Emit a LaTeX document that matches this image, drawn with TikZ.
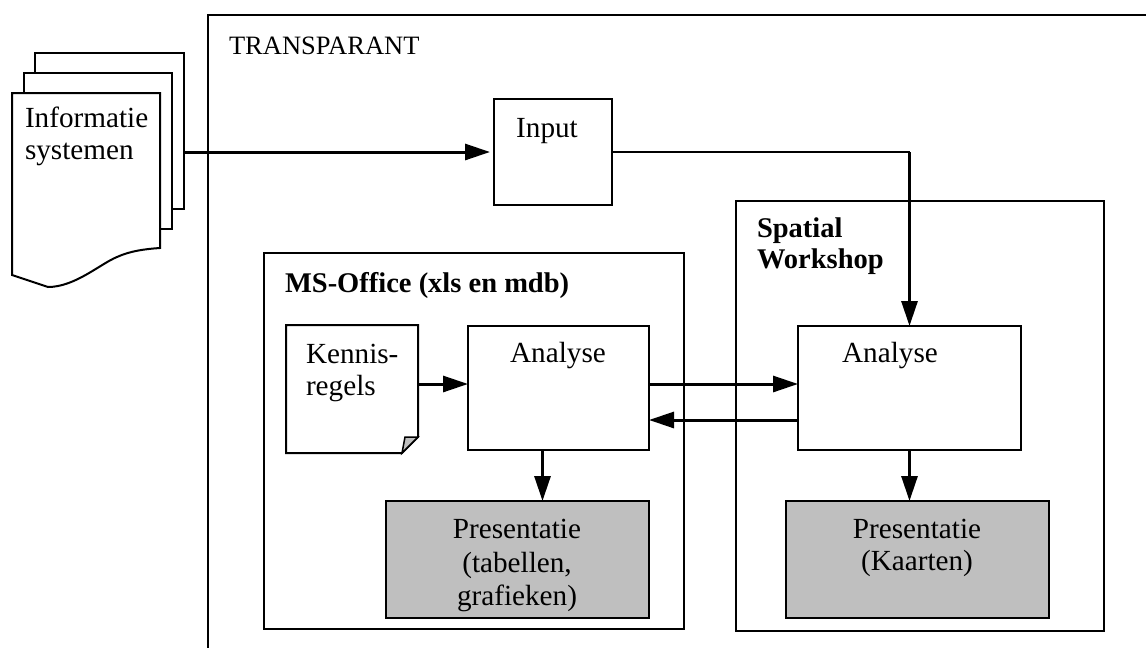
\documentclass[tikz,border=0pt]{standalone}
\usepackage{fontspec}
\setmainfont{Liberation Serif}
\usetikzlibrary{arrows.meta,calc}
\tikzset{
  pane/.style={draw=black,line width=2pt,fill=white,rectangle,inner sep=0pt,outer sep=0pt,anchor=north west},
  plain/.style={rectangle,inner sep=0pt,outer sep=0pt,anchor=north west},
  greybox/.style={pane,fill=boxgrey},
  edge/.style={draw=black,line width=2pt,line join=miter},
  thin edge/.style={draw=black,line width=2pt},
  flow/.style={draw=black,line width=3pt,-{Triangle[length=25pt,width=16pt]}},
  txt/.style={font=\fontsize{29.2}{32}\selectfont,inner sep=0pt,outer sep=0pt,anchor=base west,text=black},
  ctxt/.style={font=\fontsize{29.2}{33}\selectfont,inner sep=0pt,outer sep=0pt,anchor=base,text=black},
  captxt/.style={font=\fontsize{26.5}{32}\selectfont,inner sep=0pt,outer sep=0pt,anchor=base west,text=black},
  btxt/.style={font=\fontsize{28.5}{31}\selectfont\bfseries,inner sep=0pt,outer sep=0pt,anchor=base west,text=black}
}
\definecolor{boxgrey}{HTML}{BFBFBF}
\begin{document}
\begin{tikzpicture}[x=1pt,y=-1pt]
\useasboundingbox (0,0) rectangle (1146,648);
% outer frame (open to the right and bottom)
\coordinate (frameTR) at (1146,15);
\coordinate (frameTL) at (208,15);
\coordinate (frameBL) at (208,648);
\draw[edge] (frameTR) -- (frameTL) -- (frameBL);
\node[captxt] (title) at (229,54) {TRANSPARANT};
% document stack
\node[pane,minimum width=149pt,minimum height=156pt] (back) at (35,53) {};
\node[pane,minimum width=148pt,minimum height=156pt] (middle) at (24,73) {};
\node[plain,minimum width=148pt,minimum height=155pt] (front) at (12,93) {};
\draw[edge,fill=white] (front.north west) -- (front.north east) -- (160,248)
  .. controls (145,249) and (130,251) .. (117,257)
  .. controls (100,264) and (75,287) .. (48,287)
  -- (12,275) -- cycle;
\node[txt] (info1) at (25,127) {Informatie};
\node[txt] (info2) at (25,159) {systemen};
% input
\node[pane,minimum width=118pt,minimum height=106pt] (input) at (494,99) {};
\node[ctxt] (inputtxt) at (547,137) {Input};
% containers
\node[pane,minimum width=420pt,minimum height=376pt] (office) at (264,253) {};
\node[btxt] (officetxt) at (285,292) {MS-Office (xls en mdb)};
\node[pane,minimum width=368pt,minimum height=430pt] (spatial) at (736,201) {};
\node[btxt] (spatial1) at (757,237) {Spatial};
\node[btxt] (spatial2) at (757,268) {Workshop};
% kennisregels
\node[plain,minimum width=132pt,minimum height=128pt] (kennis) at (286,325) {};
\draw[edge,fill=white] (kennis.north west) -- (kennis.north east)
  -- ([yshift=16pt]kennis.south east) -- ([xshift=-16pt]kennis.south east)
  -- (kennis.south west) -- cycle;
\draw[edge,line width=1.5pt,fill=boxgrey] ([xshift=-16pt]kennis.south east)
  -- ([xshift=-13pt,yshift=16pt]kennis.south east) -- ([yshift=16pt]kennis.south east) -- cycle;
\node[txt] (kennis1) at (306,363) {Kennis-};
\node[txt] (kennis2) at (306,395) {regels};
% analyse
\node[pane,minimum width=181pt,minimum height=124pt] (analyseL) at (468,326) {};
\node[ctxt] (analyseLtxt) at (558,362) {Analyse};
\node[pane,minimum width=223pt,minimum height=124pt] (analyseR) at (798,326) {};
\node[ctxt] (analyseRtxt) at (890,362) {Analyse};
% presentatie
\node[greybox,minimum width=263pt,minimum height=117pt] (presL) at (386,501) {};
\node[ctxt] (presL1) at (517,538) {Presentatie};
\node[ctxt] (presL2) at (517,572) {(tabellen,};
\node[ctxt] (presL3) at (517,605) {grafieken)};
\node[greybox,minimum width=263pt,minimum height=117pt] (presR) at (786,501) {};
\node[ctxt] (presR1) at (917,538) {Presentatie};
\node[ctxt] (presR2) at (917,570) {(Kaarten)};
% connectors
\draw[flow,shorten >=4pt] (back.east |- input.west) -- (input.west);
\coordinate (bend) at (analyseR.north |- input.east);
\draw[thin edge] (input.east) -- (bend);
\draw[flow] (bend) -- (analyseR.north);
\draw[flow] ([yshift=5pt]kennis.east) -- ([yshift=4pt]analyseL.west);
\draw[flow] ([yshift=4pt]analyseL.east) -- ([yshift=4pt]analyseR.west);
\draw[flow] ([yshift=-32pt]analyseR.west) -- ([yshift=-32pt]analyseL.east);
\draw[flow] ([xshift=-16pt]analyseL.south) -- ([xshift=-16pt]analyseL.south |- presL.north);
\draw[flow] (analyseR.south) -- (analyseR.south |- presR.north);
\end{tikzpicture}
\end{document}
